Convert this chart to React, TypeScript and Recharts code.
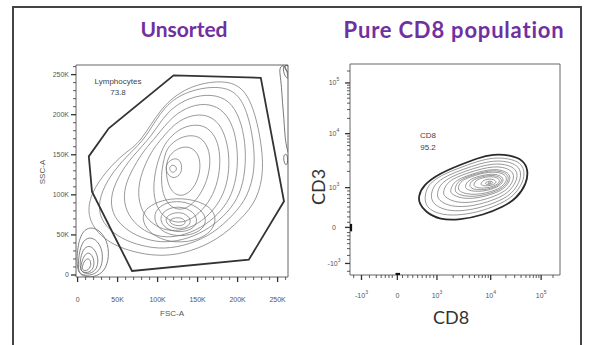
import React from 'react';
import { ComposedChart, Line, XAxis, YAxis, ReferenceArea } from 'recharts';

// ---- Unsorted: FSC-A / SSC-A (values in K) ----
const FSC_TICKS = [0, 10, 20, 30, 40, 50, 60, 70, 80, 90, 100, 110, 120, 130, 140, 150, 160, 170, 180, 190, 200, 210, 220, 230, 240, 250, 260];
const SSC_TICKS = [0, 10, 20, 30, 40, 50, 60, 70, 80, 90, 100, 110, 120, 130, 140, 150, 160, 170, 180, 190, 200, 210, 220, 230, 240, 250, 260];

const lymphGate = [[14, 148], [39, 183], [120, 249], [229, 246], [258, 92], [214, 19], [68, 5], [18, 104]];

const mainContours = [
  [[79, 165], [104, 210], [137, 235], [175, 243], [204, 238], [220, 210], [229, 169], [233, 131], [225, 94], [204, 69], [175, 44], [141, 29], [108, 23], [75, 27], [45, 37], [25, 52], [12, 73], [16, 102], [37, 131], [58, 152]],
  [[85, 170], [108, 212], [138, 230], [172, 236], [198, 230], [212, 205], [220, 168], [222, 132], [213, 98], [195, 75], [170, 52], [140, 38], [108, 32], [80, 36], [55, 45], [35, 60], [25, 80], [30, 105], [45, 130], [65, 152]],
  [[92, 172], [112, 205], [140, 222], [168, 226], [190, 218], [203, 196], [210, 165], [210, 130], [203, 100], [188, 78], [165, 58], [138, 45], [110, 40], [85, 44], [62, 55], [45, 72], [40, 95], [50, 122], [68, 148]],
  [[98, 172], [118, 198], [142, 212], [165, 214], [183, 205], [195, 185], [200, 158], [200, 128], [193, 100], [180, 80], [160, 62], [135, 50], [110, 46], [88, 52], [70, 65], [58, 85], [58, 110], [70, 135], [84, 157]],
  [[105, 170], [122, 190], [143, 200], [162, 200], [177, 190], [186, 170], [190, 145], [188, 118], [180, 95], [165, 75], [145, 60], [122, 54], [102, 58], [86, 70], [76, 90], [76, 115], [85, 140], [95, 158]],
  [[110, 166], [126, 182], [144, 188], [160, 186], [172, 174], [178, 155], [178, 130], [172, 105], [160, 85], [144, 70], [126, 64], [110, 70], [98, 85], [94, 108], [98, 135], [104, 152]],
  [[112, 160], [128, 172], [144, 175], [157, 170], [165, 155], [166, 135], [160, 112], [148, 92], [132, 80], [116, 84], [106, 100], [104, 125], [108, 145]],
  [[114, 150], [128, 160], [142, 160], [152, 150], [154, 132], [148, 112], [135, 98], [120, 100], [112, 115], [110, 135]],
  [[112, 140], [120, 146], [128, 144], [131, 134], [128, 124], [119, 120], [112, 126], [110, 134]],
  [[115, 136], [121, 138], [125, 132], [120, 127], [115, 130]],
  [[85, 84], [108, 95], [138, 96], [165, 87], [175, 70], [165, 50], [138, 40], [108, 42], [88, 54], [80, 70]],
  [[95, 80], [112, 92], [135, 92], [155, 82], [162, 68], [155, 55], [135, 48], [112, 50], [97, 62]],
  [[102, 75], [116, 85], [134, 85], [148, 76], [150, 64], [140, 55], [122, 53], [106, 60]],
  [[108, 71], [119, 78], [133, 78], [142, 70], [140, 61], [128, 57], [114, 60]],
  [[113, 68], [122, 72], [132, 71], [136, 65], [130, 61], [119, 62]],
];

const debrisContours = [
  [[-2, 5], [0, 40], [8, 58], [22, 60], [35, 48], [40, 28], [36, 8], [25, -2], [8, -3]],
  [[0, 5], [2, 32], [9, 46], [20, 47], [30, 36], [32, 18], [27, 4], [15, -1], [5, 0]],
  [[2, 6], [4, 26], [10, 36], [18, 36], [25, 26], [26, 12], [20, 3], [10, 1]],
  [[3, 7], [6, 20], [11, 28], [17, 27], [21, 18], [20, 8], [14, 3], [7, 3]],
  [[5, 8], [8, 17], [12, 21], [16, 19], [17, 11], [13, 6], [8, 5]],
];

const edgeContours = [
  [[252, 262], [253, 250], [255, 235], [256, 215], [258, 195], [259, 175], [261, 160], [264, 150], [266, 150], [266, 262]],
  [[256, 262], [258, 250], [262, 245], [266, 245], [266, 262]],
  [[258, 262], [260, 255], [264, 253], [266, 256], [266, 262]],
  [[257, 150], [258, 140], [261, 136], [263, 142], [262, 152]],
];

// ---- Pure CD8: CD8 / CD3 (biexponential channel units 0-1024) ----
const BIEX_MAJOR = [56, 231, 424, 686, 932];
const BIEX_LABELS = [['-10', '3'], ['0', ''], ['10', '3'], ['10', '4'], ['10', '5']];
const BIEX_MINOR = [18, 95, 128, 152, 172, 190, 206, 256, 282, 306, 330, 352, 372, 390, 408, 503, 549, 582, 607, 628, 645, 660, 674, 760, 803, 834, 858, 877, 894, 908, 921, 990];

const cd8Gate = [[333, 380], [357, 437], [439, 494], [536, 534], [618, 566], [699, 587], [780, 582], [845, 558], [869, 510], [862, 445], [813, 372], [748, 331], [650, 291], [536, 267], [439, 267], [366, 307], [338, 348]];

const cd8Contours = [
  [[365, 385], [380, 440], [450, 488], [545, 524], [625, 553], [700, 570], [775, 566], [832, 545], [852, 505], [845, 450], [800, 385], [740, 348], [650, 312], [545, 290], [450, 290], [385, 318], [367, 350]],
  [[395, 392], [410, 440], [470, 482], [555, 514], [632, 540], [700, 555], [765, 552], [818, 532], [835, 497], [828, 452], [790, 395], [735, 362], [650, 330], [555, 310], [470, 312], [415, 338], [398, 365]],
  [[425, 398], [440, 442], [495, 478], [565, 505], [638, 528], [700, 540], [755, 538], [802, 520], [818, 490], [810, 452], [778, 405], [728, 375], [652, 348], [568, 330], [490, 333], [440, 357], [427, 378]],
  [[455, 405], [470, 445], [518, 475], [580, 497], [643, 516], [700, 526], [745, 524], [786, 508], [800, 484], [794, 452], [765, 413], [720, 388], [655, 365], [582, 350], [512, 353], [468, 375], [457, 390]],
  [[490, 412], [503, 448], [545, 472], [595, 490], [648, 505], [697, 513], [736, 510], [770, 496], [782, 476], [777, 452], [752, 420], [715, 400], [660, 382], [598, 370], [540, 373], [500, 390], [492, 400]],
  [[510, 416], [522, 450], [558, 471], [603, 487], [652, 500], [697, 507], [732, 504], [763, 491], [774, 473], [769, 451], [746, 424], [712, 406], [662, 390], [606, 380], [554, 383], [517, 397]],
  [[525, 420], [537, 452], [570, 470], [612, 484], [655, 496], [696, 500], [728, 498], [755, 486], [765, 470], [760, 451], [740, 428], [710, 412], [665, 398], [615, 390], [568, 393], [535, 405]],
  [[560, 428], [572, 455], [600, 470], [632, 480], [665, 487], [698, 490], [722, 486], [742, 476], [748, 462], [743, 448], [726, 432], [702, 420], [668, 410], [628, 405], [590, 408], [568, 417]],
  [[580, 432], [592, 457], [618, 469], [646, 478], [678, 483], [705, 483], [726, 476], [740, 464], [737, 450], [722, 436], [700, 425], [670, 416], [634, 413], [598, 416]],
  [[600, 435], [612, 458], [635, 468], [660, 475], [690, 478], [712, 474], [728, 464], [730, 452], [718, 440], [698, 430], [670, 423], [640, 421], [615, 425]],
  [[635, 440], [648, 458], [668, 465], [690, 466], [708, 460], [714, 450], [704, 441], [685, 434], [660, 432], [645, 435]],
  [[658, 445], [670, 455], [688, 456], [699, 450], [692, 442], [675, 439], [663, 440]],
  [[670, 447], [680, 452], [690, 450], [686, 444], [676, 443]],
];

// events piled up on the axes at zero
const yAxisPile = [[3, 212], [3, 248]];
const xAxisPile = [[222, 3], [244, 3]];

const toPts = (c: number[][]) => c.map(([x, y]) => ({ x, y }));

const TICK_FONT = '"Liberation Sans", Arial, sans-serif';

const kLabel = (v: number) => (v === 0 ? '0' : `${v}K`);

const LinXTick = (p: any) => {
  const v = p.payload.value;
  const major = v % 50 === 0;
  return (
    <g>
      <line x1={p.x} x2={p.x} y1={p.y} y2={p.y + (major ? 5 : 3)} stroke="#333" strokeWidth={major ? 1.3 : 0.8} />
      {major && (
        <text x={p.x} y={p.y + 24.5} textAnchor="middle" fontSize={7} fill="#555" fontFamily={TICK_FONT}>{kLabel(v)}</text>
      )}
    </g>
  );
};

const LinYTick = (p: any) => {
  const v = p.payload.value;
  const major = v % 50 === 0;
  return (
    <g>
      <line x1={p.x} x2={p.x - (major ? 5 : 3)} y1={p.y} y2={p.y} stroke="#333" strokeWidth={major ? 1.3 : 0.8} />
      {major && (
        <text x={p.x - 7} y={p.y + 2.5} textAnchor="end" fontSize={7} fill="#555" fontFamily={TICK_FONT}>{kLabel(v)}</text>
      )}
    </g>
  );
};

const PowText = ({ x, y, lab }: { x: number; y: number; lab: string[] }) => (
  <text x={x} y={y} textAnchor="middle" fontSize={7} fill="#555" fontFamily={TICK_FONT}>
    {lab[0]}
    {lab[1] && <tspan dy={-4} fontSize={5}>{lab[1]}</tspan>}
  </text>
);

const BiexXTick = (p: any) => {
  const i = BIEX_MAJOR.indexOf(p.payload.value);
  const major = i >= 0;
  return (
    <g>
      <line x1={p.x} x2={p.x} y1={p.y} y2={p.y + (major ? 5 : 3)} stroke="#333" strokeWidth={major ? 1.3 : 0.8} />
      {major && <PowText x={p.x} y={p.y + 22.5} lab={BIEX_LABELS[i]} />}
    </g>
  );
};

const BiexYTick = (p: any) => {
  const i = BIEX_MAJOR.indexOf(p.payload.value);
  const major = i >= 0;
  return (
    <g>
      <line x1={p.x} x2={p.x - (major ? 5 : 3)} y1={p.y} y2={p.y} stroke="#333" strokeWidth={major ? 1.3 : 0.8} />
      {major && <PowText x={p.x - 16} y={p.y + 2.5} lab={BIEX_LABELS[i]} />}
    </g>
  );
};

const contourLine = (c: number[][], key: string, stroke: string, width: number, type: any = 'basisClosed') => (
  <Line
    key={key}
    data={toPts(c)}
    dataKey="y"
    type={type}
    stroke={stroke}
    strokeWidth={width}
    dot={false}
    activeDot={false}
    legendType="none"
    isAnimationActive={false}
  />
);

const abs = (left: number, top: number, extra: React.CSSProperties = {}): React.CSSProperties => ({
  position: 'absolute', left, top, whiteSpace: 'nowrap', ...extra,
});

const titleStyle: React.CSSProperties = { transform: 'translateX(-50%)', fontFamily: 'Lato, sans-serif', fontWeight: 700, fontSize: 21, color: '#7030A0' };

export default function App() {
  const allB = [...BIEX_MAJOR, ...BIEX_MINOR].sort((a, b) => a - b);
  return (
    <div style={{ position: 'absolute', left: 0, top: 0, width: 589, height: 345, background: '#fff', overflow: 'hidden' }}>
      <div style={{ position: 'absolute', left: 12, top: 6, width: 566, height: 400, border: '2px solid #444' }} />

      <div style={abs(184, 16, titleStyle)}>Unsorted</div>
      <div style={abs(454, 16, { ...titleStyle, fontSize: 22, letterSpacing: 0.8 })}>Pure CD8 population</div>

      <div style={{ position: 'absolute', left: 0, top: 0 }}>
        <ComposedChart width={300} height={345} margin={{ top: 65, right: 12, bottom: 38, left: 36 }}>
          <XAxis type="number" dataKey="x" domain={[-2, 263]} ticks={FSC_TICKS} interval={0} allowDataOverflow
            tick={LinXTick} tickLine={false} axisLine={false} tickSize={0} tickMargin={0} height={30} />
          <YAxis type="number" domain={[-2.5, 262]} ticks={SSC_TICKS} interval={0} allowDataOverflow
            tick={LinYTick} tickLine={false} axisLine={false} tickSize={0} tickMargin={0} width={40} />
          <ReferenceArea x1={-2} x2={263} y1={-2.5} y2={262} fill="none" stroke="#666" strokeWidth={1} ifOverflow="visible" />
          {debrisContours.map((c, i) => contourLine(c, `d${i}`, '#666', 0.8))}
          {mainContours.map((c, i) => contourLine(c, `m${i}`, '#777', 0.75))}
          {edgeContours.map((c, i) => contourLine(c, `e${i}`, '#555', 0.8))}
          {contourLine(lymphGate, 'gate', '#333', 1.8, 'linearClosed')}
        </ComposedChart>
      </div>

      <div style={{ position: 'absolute', left: 300, top: 0 }}>
        <ComposedChart width={289} height={345} margin={{ top: 64, right: 29, bottom: 40, left: 14 }}>
          <XAxis type="number" dataKey="x" domain={[0, 1024]} ticks={allB} interval={0} allowDataOverflow
            tick={BiexXTick} tickLine={false} axisLine={false} tickSize={0} tickMargin={0} height={30} />
          <YAxis type="number" domain={[0, 1024]} ticks={allB} interval={0} allowDataOverflow
            tick={BiexYTick} tickLine={false} axisLine={false} tickSize={0} tickMargin={0} width={36} />
          <ReferenceArea x1={0} x2={1024} y1={0} y2={1024} fill="none" stroke="#666" strokeWidth={1} ifOverflow="visible" />
          {cd8Contours.map((c, i) => contourLine(c, `c${i}`, '#777', 0.75))}
          {contourLine(cd8Gate, 'cd8gate', '#2a2a2a', 1.8)}
          {contourLine(yAxisPile, 'ypile', '#111', 3, 'linear')}
          {contourLine(xAxisPile, 'xpile', '#111', 3, 'linear')}
        </ComposedChart>
      </div>

      <div style={abs(118, 76, { transform: 'translateX(-50%)', fontFamily: TICK_FONT, fontSize: 8, color: '#444', textAlign: 'center', lineHeight: '11px' })}>Lymphocytes<br />73.8</div>
      <div style={abs(428, 130, { transform: 'translateX(-50%)', fontFamily: TICK_FONT, fontSize: 8, color: '#444', textAlign: 'center', lineHeight: '12px' })}>CD8<br />95.2</div>

      <div style={abs(172, 309, { transform: 'translateX(-50%)', fontFamily: TICK_FONT, fontSize: 8, color: '#555' })}>FSC-A</div>
      <div style={abs(42, 172, { transform: 'translate(-50%,-50%) rotate(-90deg)', fontFamily: TICK_FONT, fontSize: 8, color: '#555' })}>SSC-A</div>

      <div style={abs(451, 306, { transform: 'translateX(-50%)', fontFamily: 'Lato, sans-serif', fontSize: 18, color: '#333' })}>CD8</div>
      <div style={abs(318, 187, { transform: 'translate(-50%,-50%) rotate(-90deg)', fontFamily: 'Lato, sans-serif', fontSize: 18, color: '#333' })}>CD3</div>
    </div>
  );
}
